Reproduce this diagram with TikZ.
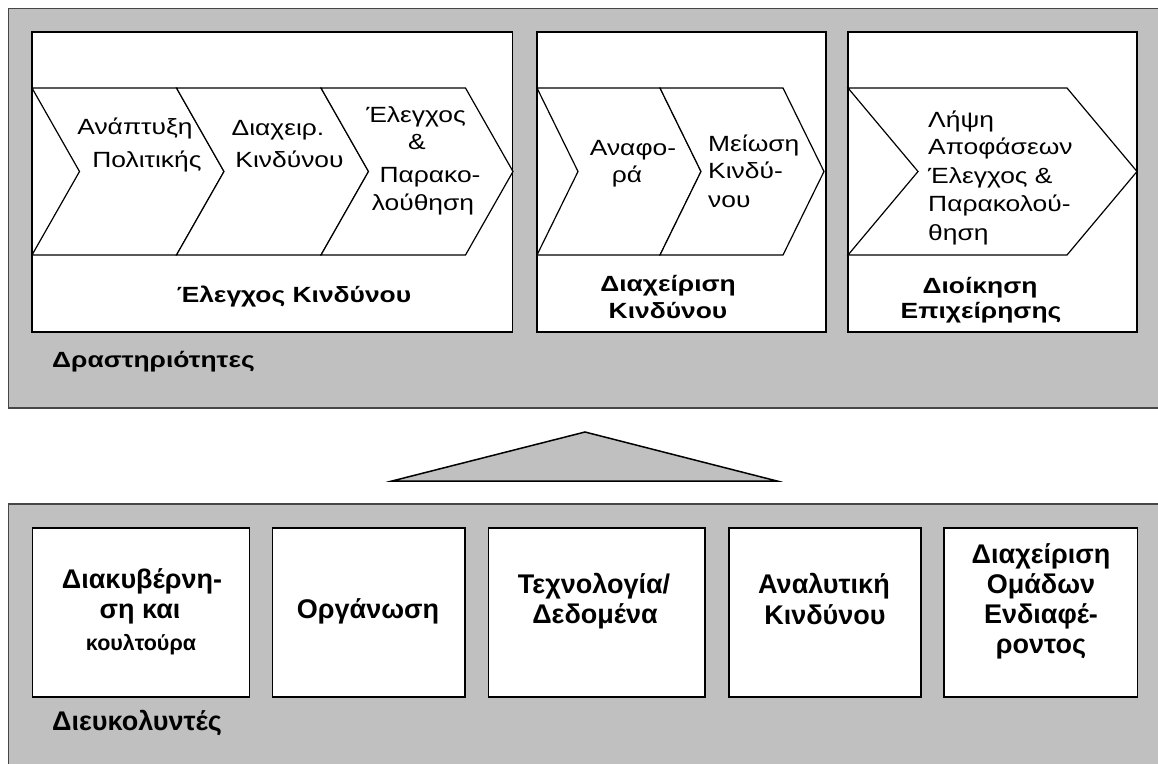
\documentclass[tikz,border=0pt]{standalone}
\usepackage{fontspec}
\setmainfont{Liberation Sans}
% the upper panel is set in a slightly widened face
\newfontfamily\widefont{Liberation Sans}[FakeStretch=1.2]
\definecolor{panelgray}{RGB}{192,192,192}
\definecolor{panelline}{RGB}{70,70,70}
% one chevron: left edge x, body width, point depth
\newcommand\chevronat[3]{%
  \draw[chev] (#1,88) -- ++(#2,0) -- ++(#3,83.5) -- ++(-#3,83.5) -- ++(-#2,0) -- ++(#3,-83.5) -- cycle;}
\begin{document}
\begin{tikzpicture}[x=1pt,y=-1pt,
  panel/.style={fill=panelgray,draw=panelline,line width=1.5pt},
  box/.style={fill=white,draw=black,line width=1.6pt},
  chev/.style={fill=white,draw=black,line width=1.2pt,line join=miter},
  steptxt/.style={font=\widefont\fontsize{22}{26}\selectfont,anchor=base,inner sep=0pt},
  boldtxt/.style={font=\widefont\fontsize{22}{26}\selectfont\bfseries,anchor=base,inner sep=0pt},
  basetxt/.style={font=\fontsize{27}{32}\selectfont\bfseries,anchor=base,inner sep=0pt},
  smalltxt/.style={font=\fontsize{21.5}{26}\selectfont\bfseries,anchor=base,inner sep=0pt}]
\useasboundingbox (0,0) rectangle (1158,763);
\clip (0,0) rectangle (1158,763);
\fill[white] (0,0) rectangle (1158,763);

% --- activities panel ---
\draw[panel] (8.5,8.5) rectangle (1180,408);
\draw[box] (32,32) rectangle (512.5,332);
\draw[box] (537,32) rectangle (826,332);
\draw[box] (848,32) rectangle (1137,332);

\chevronat{32}{144.5}{47.5}
\chevronat{176.5}{144.5}{47.5}
\chevronat{321}{144.5}{47.5}
\chevronat{537}{123}{41}
\chevronat{660}{123}{41}
\chevronat{848}{219}{70}

% chevron texts
\node[steptxt] (a1) at (135,134) {Ανάπτυξη};
\node[steptxt] (a2) at (147,167) {Πολιτικής};
\node[steptxt] (b1) at (278,135) {Διαχειρ.};
\node[steptxt] (b2) at (289.5,167) {Κινδύνου};
\node[steptxt] (c1) at (416,122) {Έλεγχος};
\node[steptxt] (c2) at (417,149) {\&};
\node[steptxt] (c3) at (430,182) {Παρακο-};
\node[steptxt] (c4) at (423,210) {λούθηση};
\node[steptxt] (d1) at (633,155) {Αναφο-};
\node[steptxt] (d2) at (627,182) {ρά};
\node[steptxt,anchor=base west] (e1) at (708,151) {Μείωση};
\node[steptxt,anchor=base west] (e2) at (708,178) {Κινδύ-};
\node[steptxt,anchor=base west] (e3) at (708,207) {νου};
\node[steptxt,anchor=base west] (f1) at (928,127) {Λήψη};
\node[steptxt,anchor=base west] (f2) at (928,154) {Αποφάσεων};
\node[steptxt,anchor=base west] (f3) at (928,183) {Έλεγχος \&};
\node[steptxt,anchor=base west] (f4) at (928,211) {Παρακολού-};
\node[steptxt,anchor=base west] (f5) at (928,240) {θηση};

% box captions
\node[boldtxt] (g1) at (294,302) {Έλεγχος Κινδύνου};
\node[boldtxt] (h1) at (668,291) {Διαχείριση};
\node[boldtxt] (h2) at (668,318) {Κινδύνου};
\node[boldtxt] (i1) at (980,293) {Διοίκηση};
\node[boldtxt] (i2) at (981,318) {Επιχείρησης};
\node[boldtxt,anchor=base west] (act) at (52,367) {Δραστηριότητες};

% --- link between the two panels ---
\draw[fill=panelgray,draw=black,line width=1.5pt,line join=miter] (392,481) -- (585,432) -- (777,481) -- cycle;

% --- enablers panel ---
\draw[panel] (8.5,504) rectangle (1180,800);
\draw[box] (32.5,528) rectangle (249.5,697);
\draw[box] (272.5,528) rectangle (465,697);
\draw[box] (488.5,528) rectangle (705,697);
\draw[box] (729,528) rectangle (921,697);
\draw[box] (944,528) rectangle (1137.5,697);

\node[basetxt] (j1) at (142,588) {Διακυβέρνη-};
\node[basetxt] (j2) at (140,618) {ση και};
\node[smalltxt] (j3) at (141,650) {κουλτούρα};
\node[basetxt] (k1) at (368,618) {Οργάνωση};
\node[basetxt] (l1) at (594,593) {Τεχνολογία/};
\node[basetxt] (l2) at (595,623) {Δεδομένα};
\node[basetxt] (m1) at (824,593) {Αναλυτική};
\node[basetxt] (m2) at (825,624) {Κινδύνου};
\node[basetxt] (n1) at (1041,563) {Διαχείριση};
\node[basetxt] (n2) at (1041,593) {Ομάδων};
\node[basetxt] (n3) at (1041,623) {Ενδιαφέ-};
\node[basetxt] (n4) at (1041,653) {ροντος};
\node[basetxt,anchor=base west] (fac) at (52,730) {Διευκολυντές};
\end{tikzpicture}
\end{document}
